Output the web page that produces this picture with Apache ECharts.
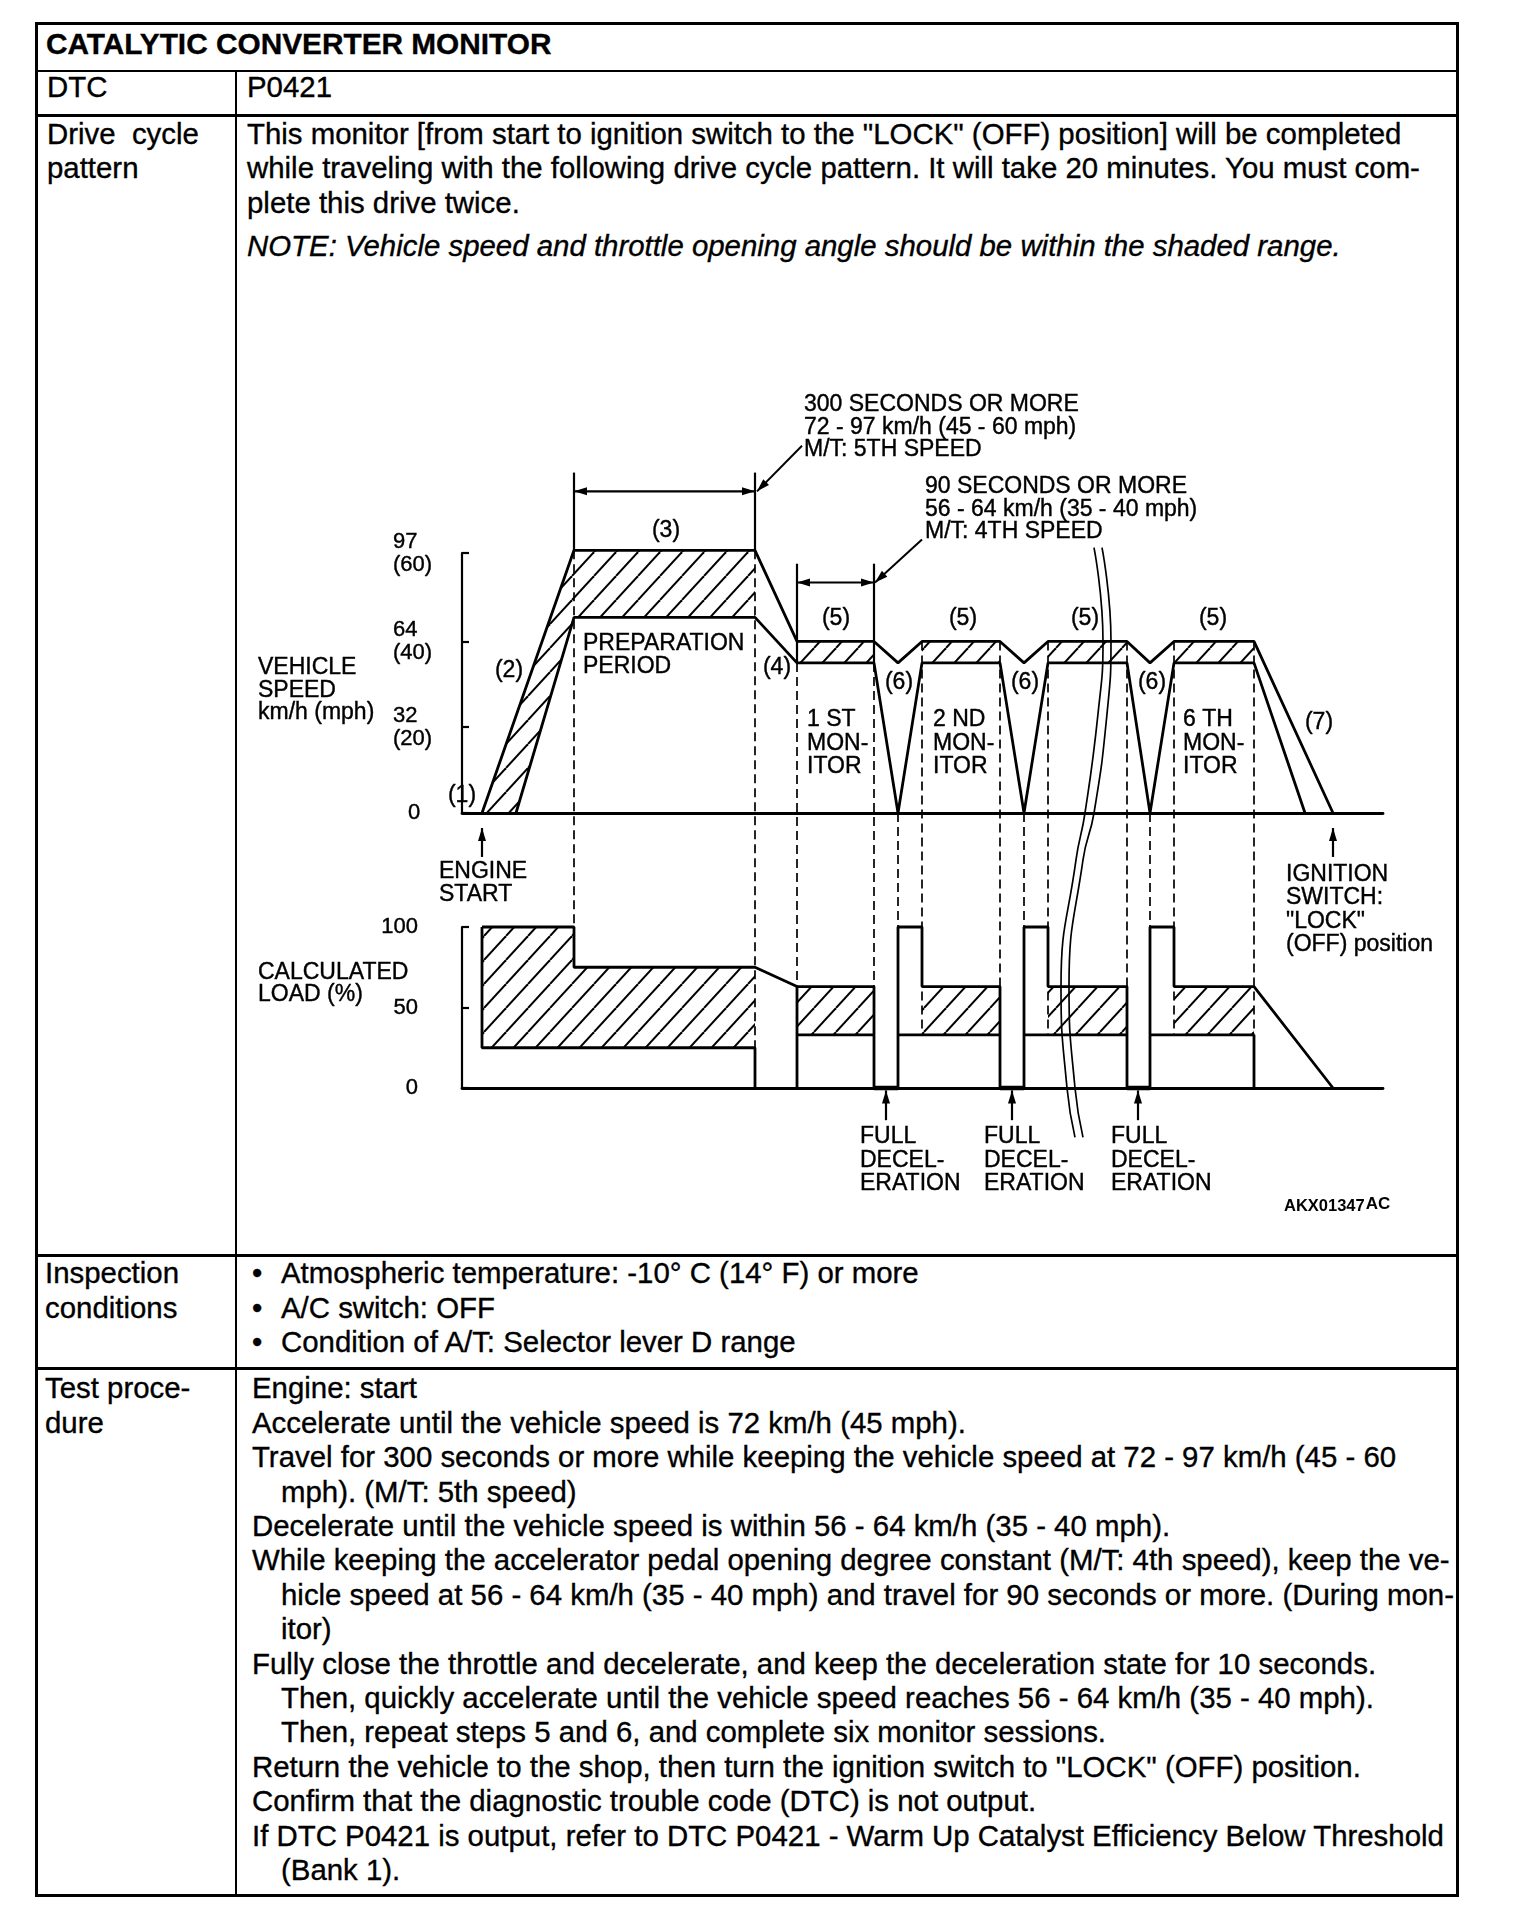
<!DOCTYPE html>
<html>
<head>
<meta charset="utf-8">
<title>Catalytic converter monitor</title>
<script src="https://cdn.jsdelivr.net/npm/echarts@6/dist/echarts.min.js"></script>
<style>
  html, body { margin: 0; padding: 0; background: #fff; }
  body { width: 1520px; height: 1920px; position: relative; overflow: hidden;
         font-family: "Liberation Sans", Arial, sans-serif; color: #000; }
  .frame { position: absolute; left: 35px; top: 22px; width: 1424px; height: 1875px;
           border: 3px solid #000; box-sizing: border-box; }
  .hl { position: absolute; left: 35px; width: 1424px; background: #000; }
  .vl { position: absolute; background: #000; }
  .t { position: absolute; font-size: 29.4px; line-height: 34.4px; white-space: nowrap;
       -webkit-text-stroke: 0.35px #000; }
  .ind { padding-left: 29px; }
  .b { display: inline-block; width: 29px; }
  #chart { position: absolute; left: 0; top: 0; width: 1520px; height: 1920px; z-index: 2; }
</style>
</head>
<body>
<div class="frame"></div>
<div class="hl" style="top:69.5px;height:2.5px"></div>
<div class="hl" style="top:114px;height:3px"></div>
<div class="hl" style="top:1253.5px;height:3px"></div>
<div class="hl" style="top:1367px;height:3px"></div>
<div class="vl" style="left:234.5px;top:71px;width:2.5px;height:1826px"></div>

<div class="t" style="left:46px;top:20px;font-size:29.8px;line-height:48px;font-weight:bold">CATALYTIC CONVERTER MONITOR</div>
<div class="t" style="left:47px;top:70.3px">DTC</div>
<div class="t" style="left:247px;top:70.3px">P0421</div>

<div class="t" style="left:47px;top:117px">Drive&nbsp; cycle<br>pattern</div>
<div class="t" style="left:247px;top:117px">This monitor [from start to ignition switch to the "LOCK" (OFF) position] will be completed<br>while traveling with the following drive cycle pattern. It will take 20 minutes. You must com-<br>plete this drive twice.</div>
<div class="t" style="left:247px;top:229px;font-style:italic">NOTE: Vehicle speed and throttle opening angle should be within the shaded range.</div>

<div class="t" style="left:45px;top:1256.3px">Inspection<br>conditions</div>
<div class="t" style="left:252px;top:1256.3px">
<div><span class="b">•</span>Atmospheric temperature: -10° C (14° F) or more</div>
<div><span class="b">•</span>A/C switch: OFF</div>
<div><span class="b">•</span>Condition of A/T: Selector lever D range</div>
</div>

<div class="t" style="left:45px;top:1371.3px">Test proce-<br>dure</div>
<div class="t" style="left:252px;top:1371.3px">
<div>Engine: start</div>
<div>Accelerate until the vehicle speed is 72 km/h (45 mph).</div>
<div>Travel for 300 seconds or more while keeping the vehicle speed at 72 - 97 km/h (45 - 60</div>
<div class="ind">mph). (M/T: 5th speed)</div>
<div>Decelerate until the vehicle speed is within 56 - 64 km/h (35 - 40 mph).</div>
<div>While keeping the accelerator pedal opening degree constant (M/T: 4th speed), keep the ve-</div>
<div class="ind">hicle speed at 56 - 64 km/h (35 - 40 mph) and travel for 90 seconds or more. (During mon-</div>
<div class="ind">itor)</div>
<div>Fully close the throttle and decelerate, and keep the deceleration state for 10 seconds.</div>
<div class="ind">Then, quickly accelerate until the vehicle speed reaches 56 - 64 km/h (35 - 40 mph).</div>
<div class="ind">Then, repeat steps 5 and 6, and complete six monitor sessions.</div>
<div>Return the vehicle to the shop, then turn the ignition switch to "LOCK" (OFF) position.</div>
<div>Confirm that the diagnostic trouble code (DTC) is not output.</div>
<div>If DTC P0421 is output, refer to DTC P0421 - Warm Up Catalyst Efficiency Below Threshold</div>
<div class="ind">(Bank 1).</div>
</div>

<div id="chart"></div>

<script>
// time runs along x in drawing units (0 = left end of the base line)
var tMax = 921;

// vehicle speed axis, km/h
var speedTicks = [0, 32, 64, 97];
var speedTickLabels = ['0', '32\n(20)', '64\n(40)', '97\n(60)'];
// calculated load axis, %
var loadTicks = [0, 50, 100];

// speed corridor, [t, km/h]
var speedUpper = [[20, 0], [112, 98], [293, 98], [335, 64], [412, 64], [436, 56], [460, 64], [538, 64],
  [562, 56], [586, 64], [665, 64], [688, 56], [712, 64], [792, 64], [871, 0]];
var speedLower = [[54, 0], [112, 73], [293, 73], [335, 56], [412, 56], [436, 0], [460, 56], [538, 56],
  [562, 0], [586, 56], [665, 56], [688, 0], [712, 56], [792, 56], [843, 0]];
var speedHatch = [
  [[20, 0], [112, 98], [293, 98], [293, 73], [112, 73], [54, 0]],
  [[335, 56], [335, 64], [412, 64], [412, 56]],
  [[460, 56], [460, 64], [538, 64], [538, 56]],
  [[586, 56], [586, 64], [665, 64], [665, 56]],
  [[712, 56], [712, 64], [792, 64], [792, 56]]
];

// load corridor, [t, %]
var loadUpper = [[20, 100], [112, 100], [112, 75], [293, 75], [335, 63], [412, 63], [412, 0], [436, 0],
  [436, 100], [460, 100], [460, 63], [538, 63], [538, 0], [562, 0], [562, 100], [586, 100], [586, 63],
  [665, 63], [665, 0], [688, 0], [688, 100], [712, 100], [712, 63], [792, 63], [871, 0]];
var loadLower = [[20, 100], [20, 25], [293, 25], [293, 0]];
var loadSteps = [
  [[335, 63], [335, 0]],
  [[335, 33], [412, 33]],
  [[436, 33], [538, 33]],
  [[562, 33], [665, 33]],
  [[688, 33], [792, 33]],
  [[792, 33], [792, 0]]
];
var decelFloors = [[[412, 0], [436, 0]], [[538, 0], [562, 0]], [[665, 0], [688, 0]]];
var loadHatch = [
  [[20, 25], [20, 100], [112, 100], [112, 75], [293, 75], [293, 25]],
  [[335, 33], [335, 63], [412, 63], [412, 33]],
  [[460, 33], [460, 63], [538, 63], [538, 33]],
  [[586, 33], [586, 63], [665, 63], [665, 33]],
  [[712, 33], [712, 63], [792, 63], [792, 33]]
];

// dashed guides: [t, speed where it starts, load where it ends]
var guides = [[112, 98, 100], [293, 98, 25], [335, 56, 63], [412, 56, 63], [436, 0, 100], [460, 64, 33],
  [538, 64, 63], [562, 0, 100], [586, 64, 33], [665, 64, 63], [688, 0, 100], [712, 64, 33], [792, 64, 33]];

// time-break marks, in speed units
var breakLeft = [[632, 99], [641, 64], [636, 37], [623, 0], [614, -17.5], [599, -65], [605, -102.6], [613, -121]];
var breakRight = [[640, 99], [649, 64], [645, 37], [632, 0], [621, -17.5], [607, -65], [613, -102.6], [621, -121]];

// dimension and pointer lines (speed units); heads = [start, end]
var speedMarks = [
  { pts: [[112, 120], [293, 120]], heads: [1, 1], w: 2.2 },
  { pts: [[112, 127], [112, 98]], w: 2.2 },
  { pts: [[293, 127], [293, 98]], w: 2.2 },
  { pts: [[295, 120], [340, 137]], heads: [1, 0], w: 2 },
  { pts: [[335, 86], [412, 86]], heads: [1, 1], w: 2.2 },
  { pts: [[335, 93], [335, 56]], w: 2.2 },
  { pts: [[412, 93], [412, 56]], w: 2.2 },
  { pts: [[413, 86], [460, 102]], heads: [1, 0], w: 2 },
  { pts: [[20, -16.4], [20, -5.6]], heads: [0, 1], w: 2.2 },
  { pts: [[871, -16.4], [871, -5.6]], heads: [0, 1], w: 2.2 }
];
var loadMarks = [
  { pts: [[424, -20], [424, -1.5]], heads: [0, 1], w: 2.2 },
  { pts: [[550, -20], [550, -1.5]], heads: [0, 1], w: 2.2 },
  { pts: [[676, -20], [676, -1.5]], heads: [0, 1], w: 2.2 }
];

var FONT = '"Liberation Sans", Arial, sans-serif';

function hatchCanvas() {
  var w = 22, h = 24;
  var c = document.createElement('canvas');
  c.width = w; c.height = h;
  var ctx = c.getContext('2d');
  ctx.strokeStyle = '#000';
  ctx.lineWidth = 2;
  [-w, 0, w].forEach(function (o) {
    ctx.beginPath();
    ctx.moveTo(o, h);
    ctx.lineTo(o + w, 0);
    ctx.stroke();
  });
  return c;
}
var hatchFill = { image: hatchCanvas(), repeat: 'repeat' };

function hatchSeries(polys, gi) {
  return {
    type: 'custom', xAxisIndex: gi, yAxisIndex: gi, clip: false, silent: true, z: 2,
    data: polys.map(function (p) { return p[0]; }),
    renderItem: function (params, api) {
      var pts = polys[params.dataIndex].map(function (q) { return api.coord(q); });
      return { type: 'polygon', shape: { points: pts }, style: { fill: hatchFill, stroke: null } };
    }
  };
}

function lineSeries(pts, gi, width, smooth) {
  return {
    type: 'line', xAxisIndex: gi, yAxisIndex: gi, data: pts, symbol: 'none', clip: false,
    silent: true, smooth: smooth || false, z: 4,
    lineStyle: { color: '#000', width: width || 2.8 }
  };
}

function arrowHead(tip, from, len, hw) {
  var dx = tip[0] - from[0], dy = tip[1] - from[1];
  var d = Math.sqrt(dx * dx + dy * dy) || 1;
  var ux = dx / d, uy = dy / d;
  var bx = tip[0] - ux * len, by = tip[1] - uy * len;
  return {
    type: 'polygon',
    shape: { points: [tip, [bx - uy * hw, by + ux * hw], [bx + uy * hw, by - ux * hw]] },
    style: { fill: '#000' }
  };
}

function markSeries(marks, gi) {
  return {
    type: 'custom', xAxisIndex: gi, yAxisIndex: gi, clip: false, silent: true, z: 5,
    data: marks.map(function (m) { return m.pts[0]; }),
    renderItem: function (params, api) {
      var m = marks[params.dataIndex];
      var pts = m.pts.map(function (q) { return api.coord(q); });
      var kids = [{ type: 'polyline', shape: { points: pts }, style: { stroke: '#000', lineWidth: m.w, fill: null } }];
      var h = m.heads || [0, 0];
      if (h[0]) kids.push(arrowHead(pts[0], pts[1], 13, 4));
      if (h[1]) kids.push(arrowHead(pts[pts.length - 1], pts[pts.length - 2], 13, 4));
      return { type: 'group', children: kids };
    }
  };
}

var series = [];
series.push(hatchSeries(speedHatch, 0));
series.push(hatchSeries(loadHatch, 1));
series.push(lineSeries(speedUpper, 0));
series.push(lineSeries(speedLower, 0));
series.push(lineSeries(loadUpper, 1));
series.push(lineSeries(loadLower, 1));
loadSteps.forEach(function (s) { series.push(lineSeries(s, 1)); });
decelFloors.forEach(function (s) { series.push(lineSeries(s, 1, 4.5)); });
series.push(lineSeries(breakLeft, 0, 1.7, 0.5));
series.push(lineSeries(breakRight, 0, 1.7, 0.5));
series.push(markSeries(speedMarks, 0));
series.push(markSeries(loadMarks, 1));

var axisLabelBase = { color: '#000', fontFamily: 'Liberation Sans', fontSize: 22, lineHeight: 23,
  textBorderColor: '#000', textBorderWidth: 0.4 };

var option = {
  animation: false,
  grid: [
    { left: 462, top: 553, width: 921, height: 260, containLabel: false, outerBoundsMode: 'none' },
    { left: 462, top: 927, width: 921, height: 161, containLabel: false, outerBoundsMode: 'none' }
  ],
  xAxis: [0, 1].map(function (i) {
    return {
      type: 'value', gridIndex: i, min: 0, max: tMax,
      axisLine: { show: true, onZero: false, lineStyle: { color: '#000', width: 2.8 } },
      axisTick: { show: false }, axisLabel: { show: false }, splitLine: { show: false }
    };
  }),
  yAxis: [
    {
      type: 'value', gridIndex: 0, min: 0, max: 97, offset: 20,
      axisLine: { show: true, lineStyle: { color: '#000', width: 2.2 } },
      axisTick: { show: true, inside: true, length: 7, customValues: speedTicks, lineStyle: { color: '#000', width: 2.2 } },
      axisLabel: Object.assign({}, axisLabelBase, {
        customValues: speedTicks, align: 'left', margin: 49,
        formatter: function (v) {
          var i = speedTicks.indexOf(v);
          return v === 0 ? '{z|0}' : speedTickLabels[i];
        },
        rich: { z: { fontFamily: 'Liberation Sans', fontSize: 22, color: '#000', padding: [0, 0, 0, 15],
          textBorderColor: '#000', textBorderWidth: 0.4 } }
      }),
      splitLine: { show: false }
    },
    {
      type: 'value', gridIndex: 1, min: 0, max: 100, offset: 20,
      axisLine: { show: true, lineStyle: { color: '#000', width: 2.2 } },
      axisTick: { show: true, inside: true, length: 7, customValues: loadTicks, lineStyle: { color: '#000', width: 2.2 } },
      axisLabel: Object.assign({}, axisLabelBase, { customValues: loadTicks, margin: 24 }),
      splitLine: { show: false }
    }
  ],
  series: series
};

var chart = echarts.init(document.getElementById('chart'));
chart.setOption(option);

// dashed guides run from the speed chart down into the load chart
var graphics = guides.map(function (g) {
  var p1 = chart.convertToPixel({ gridIndex: 0 }, [g[0], g[1]]);
  var p2 = chart.convertToPixel({ gridIndex: 1 }, [g[0], g[2]]);
  return {
    type: 'line', silent: true, z: 3,
    shape: { x1: p1[0], y1: p1[1], x2: p2[0], y2: p2[1] },
    style: { stroke: '#000', lineWidth: 1.7, lineDash: [9, 5] }
  };
});

// annotation texts: left x, centre of first line, line height
var notes = [
  { x: 804, c: 405, lh: 22.5, t: '300 SECONDS OR MORE\n72 - 97 km/h (45 - 60 mph)\nM/T: 5TH SPEED' },
  { x: 925, c: 487, lh: 22.5, t: '90 SECONDS OR MORE\n56 - 64 km/h (35 - 40 mph)\nM/T: 4TH SPEED' },
  { x: 666, c: 531, t: '(3)', mid: true },
  { x: 583, c: 644, lh: 23, t: 'PREPARATION\nPERIOD' },
  { x: 509, c: 671, t: '(2)', mid: true },
  { x: 462, c: 796, t: '(1)', mid: true },
  { x: 777, c: 668, t: '(4)', mid: true },
  { x: 836, c: 619, t: '(5)', mid: true },
  { x: 963, c: 619, t: '(5)', mid: true },
  { x: 1085, c: 619, t: '(5)', mid: true },
  { x: 1213, c: 619, t: '(5)', mid: true },
  { x: 899, c: 683, t: '(6)', mid: true },
  { x: 1025, c: 683, t: '(6)', mid: true },
  { x: 1152, c: 683, t: '(6)', mid: true },
  { x: 1319, c: 723, t: '(7)', mid: true },
  { x: 807, c: 720, lh: 23.5, t: '1 ST\nMON-\nITOR' },
  { x: 933, c: 720, lh: 23.5, t: '2 ND\nMON-\nITOR' },
  { x: 1183, c: 720, lh: 23.5, t: '6 TH\nMON-\nITOR' },
  { x: 258, c: 668, lh: 22.5, t: 'VEHICLE\nSPEED\nkm/h (mph)' },
  { x: 439, c: 871.5, lh: 23, t: 'ENGINE\nSTART' },
  { x: 1286, c: 874.5, lh: 23.5, t: 'IGNITION\nSWITCH:\n"LOCK"\n(OFF) position' },
  { x: 258, c: 972.5, lh: 22.5, t: 'CALCULATED\nLOAD (%)' },
  { x: 860, c: 1137, lh: 23.3, t: 'FULL\nDECEL-\nERATION' },
  { x: 984, c: 1137, lh: 23.3, t: 'FULL\nDECEL-\nERATION' },
  { x: 1111, c: 1137, lh: 23.3, t: 'FULL\nDECEL-\nERATION' }
];
notes.forEach(function (n) {
  var lh = n.lh || 23;
  graphics.push({
    type: 'text', silent: true, z: 6,
    x: n.x, y: n.c - lh / 2,
    style: {
      text: n.t, font: '23px ' + FONT, fill: '#000', lineHeight: lh,
      stroke: '#000', lineWidth: 0.4,
      align: n.mid ? 'center' : 'left', verticalAlign: 'top',
      textAlign: n.mid ? 'center' : 'left', textVerticalAlign: 'top'
    }
  });
});
graphics.push({
  type: 'text', silent: true, z: 6, x: 1284, y: 1204,
  style: {
    text: '{a|AKX01347}{b|AC}', fill: '#000', verticalAlign: 'middle', textVerticalAlign: 'middle',
    rich: {
      a: { font: 'bold 16.5px ' + FONT, fill: '#000', padding: [4, 1, 0, 0] },
      b: { font: 'bold 17px ' + FONT, fill: '#000' }
    }
  }
});

chart.setOption({ graphic: graphics });

window.onresize = function () {
  chart.resize();
};
</script>
</body>
</html>
